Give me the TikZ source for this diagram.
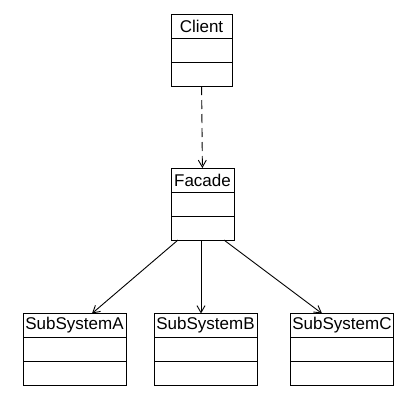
\documentclass[tikz,border=0pt]{standalone}
\usepackage{fontspec}
\setmainfont{Liberation Sans}
\usetikzlibrary{positioning,arrows.meta}

\begin{document}
\begin{tikzpicture}[x=1pt, y=-1pt, line width=0.9pt,
    classbox/.style={draw, rectangle, inner sep=0pt, outer sep=0pt, minimum height=24pt, font=\fontsize{17}{19}\selectfont},
    >={Straight Barb[length=7pt, width=8pt]}]
\useasboundingbox (0,0) rectangle (413,400);

% Client class
\node[classbox, minimum width=61pt] (client) at (201.5,26) {Client};
\node[classbox, minimum width=61pt, below=0pt of client] (client1) {};
\node[classbox, minimum width=61pt, below=0pt of client1] (client2) {};

% Facade class
\node[classbox, minimum width=63pt] (facade) at (202.5,180) {Facade};
\node[classbox, minimum width=63pt, below=0pt of facade] (facade1) {};
\node[classbox, minimum width=63pt, below=0pt of facade1] (facade2) {};

\draw[->, dash pattern=on 9pt off 5pt] (client2) -- (facade);

% Draw the subsystems
\foreach \x/\s in {74.5/A,205.5/B,342/C} {
    \node[classbox, minimum width=103pt] (sub\s) at (\x,325.5) {SubSystem\s};
    \node[classbox, minimum width=103pt, below=0pt of sub\s] (sub\s1) {};
    \node[classbox, minimum width=103pt, below=0pt of sub\s1] (sub\s2) {};
}

\draw[->] ([xshift=-24.5pt]facade2.south) -- ([xshift=17.5pt]subA.north);
\draw[->] ([xshift=-1.5pt]facade2.south) -- ([xshift=-4.5pt]subB.north);
\draw[->] ([xshift=21.5pt]facade2.south) -- ([xshift=-20pt]subC.north);
\end{tikzpicture}
\end{document}
